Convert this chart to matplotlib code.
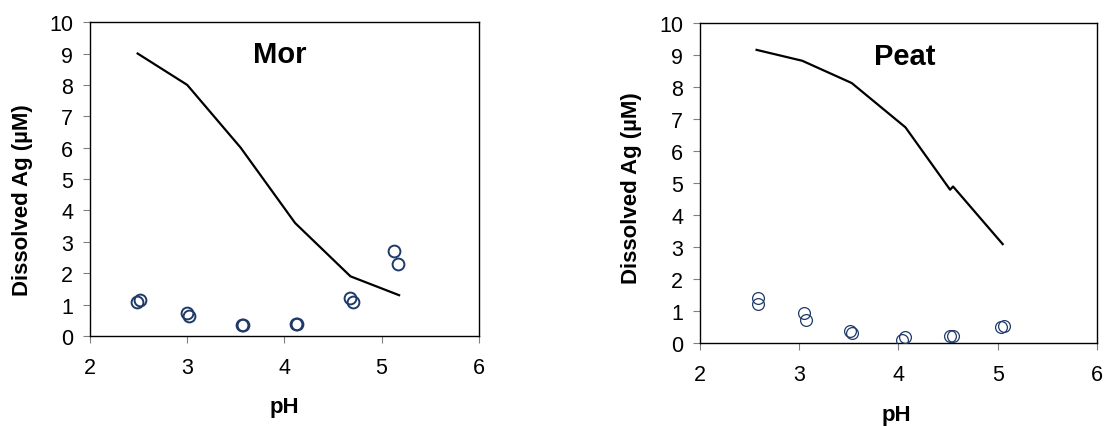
import matplotlib.pyplot as plt

plt.rcParams['font.family'] = ['Liberation Sans', 'DejaVu Sans']

# Mor panel
mor_line_ph = [2.49, 3.0, 3.55, 4.11, 4.68, 5.18]
mor_line_ag = [9.0, 8.0, 6.0, 3.6, 1.9, 1.3]
mor_pts_ph = [2.48, 2.51, 3.0, 3.02, 3.56, 3.57, 4.12, 4.13, 4.67, 4.71, 5.13, 5.17]
mor_pts_ag = [1.09, 1.15, 0.72, 0.63, 0.35, 0.35, 0.37, 0.38, 1.2, 1.09, 2.72, 2.29]

# Peat panel
peat_line_ph = [2.57, 3.03, 3.51, 3.53, 4.07, 4.52, 4.55, 5.05]
peat_line_ag = [9.16, 8.82, 8.15, 8.12, 6.74, 4.79, 4.89, 3.09]
peat_pts_ph = [2.58, 2.58, 3.05, 3.07, 3.51, 3.53, 4.04, 4.07, 4.52, 4.55, 5.03, 5.06]
peat_pts_ag = [1.40, 1.22, 0.94, 0.72, 0.36, 0.31, 0.10, 0.20, 0.21, 0.23, 0.49, 0.54]

fig = plt.figure(figsize=(11.14, 4.27), dpi=100)
ax1 = fig.add_axes([0.0808, 0.2108, 0.349, 0.735])
ax2 = fig.add_axes([0.6284, 0.1944, 0.3563, 0.7494])

panels = [
    (ax1, mor_line_ph, mor_line_ag, mor_pts_ph, mor_pts_ag, 'Mor', (0.488, 0.898), (-0.147, 0.436), (0.5, -0.19), 1.4),
    (ax2, peat_line_ph, peat_line_ag, peat_pts_ph, peat_pts_ag, 'Peat', (0.516, 0.898), (-0.146, 0.4875), (0.495, -0.19), 0.9),
]

for ax, lx, ly, px, py, name, tpos, ylpos, xlpos, mew in panels:
    ax.plot(lx, ly, color='black', lw=1.6, zorder=2)
    ax.plot(px, py, 'o', mfc='none', mec='#1f3a68', mew=mew, ms=8.5, zorder=3)
    ax.set_xlim(2, 6)
    ax.set_ylim(0, 10)
    ax.set_xticks([2, 3, 4, 5, 6])
    ax.set_yticks(range(0, 11))
    ax.tick_params(direction='out', length=5, width=0.8, color='#808080', labelsize=15.5)
    ax.tick_params(axis='y', pad=7)
    ax.tick_params(axis='x', pad=10)
    for s in ax.spines.values():
        s.set_linewidth(1.0)
        s.set_color('black')
    ax.text(tpos[0], tpos[1], name, transform=ax.transAxes, ha='center', va='center',
            fontsize=21, fontweight='bold')
    ax.set_ylabel('Dissolved Ag (µM)', fontsize=16, fontweight='bold')
    ax.set_xlabel('pH', fontsize=16, fontweight='bold')
    ax.yaxis.set_label_coords(*ylpos)
    ax.xaxis.set_label_coords(*xlpos)

fig.savefig('out.png', dpi=100)
